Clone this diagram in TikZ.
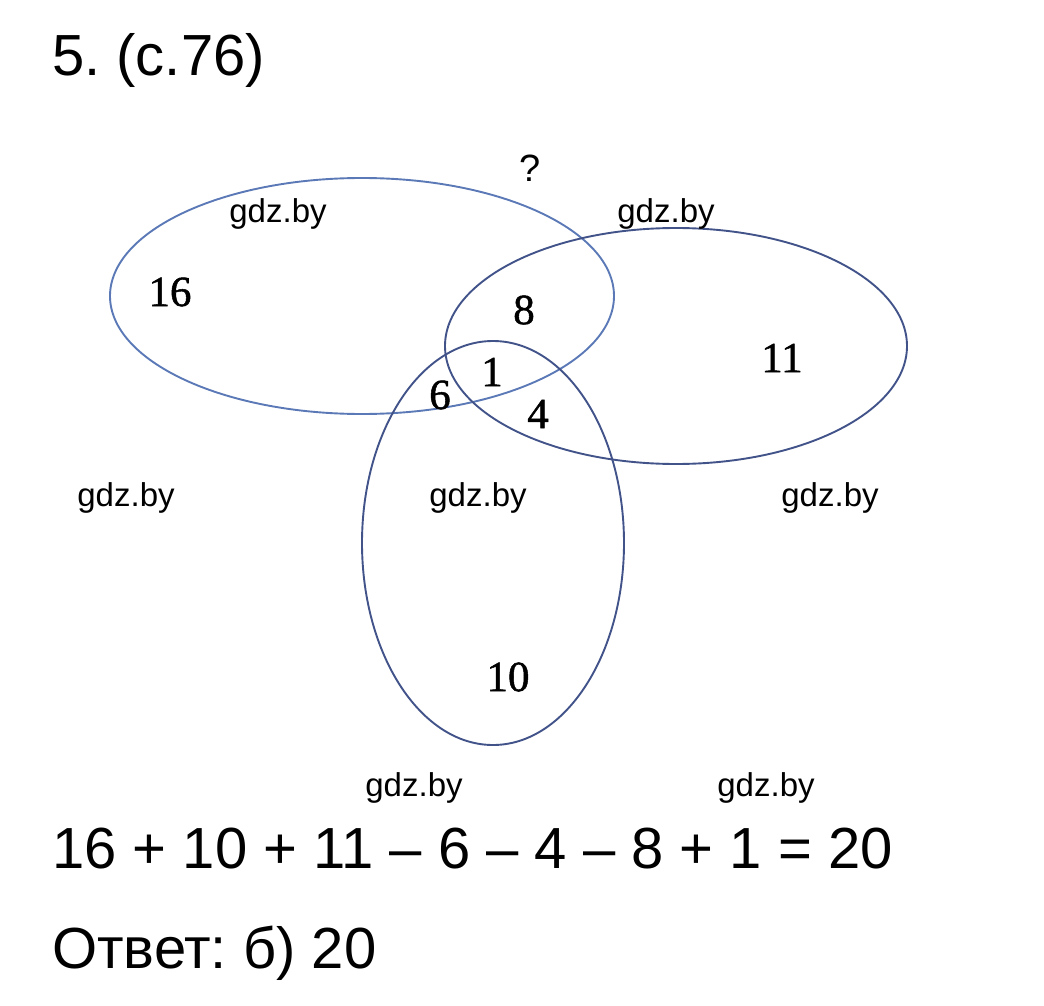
\documentclass[tikz,border=0pt]{standalone}
\usepackage{fontspec}
\setmainfont{Liberation Sans}
\newfontfamily\numfont[FakeBold=1.2]{Liberation Serif}
\usetikzlibrary{positioning}
\frenchspacing
\definecolor{ringA}{HTML}{5B79B6}
\definecolor{ringB}{HTML}{42538A}
\tikzset{
  big/.style={inner sep=0pt,anchor=base west,font=\fontsize{58}{60}\selectfont},
  site/.style={inner sep=0pt,font=\fontsize{33}{36}\selectfont},
  num/.style={inner sep=0pt,font=\numfont\fontsize{43}{45}\selectfont}
}

\begin{document}
\begin{tikzpicture}[x=1pt,y=-1pt]
\useasboundingbox (0,0) rectangle (1044,1006);
\draw[ringA,line width=1.9pt] (362,296) ellipse (252 and 118);
\draw[ringB,line width=1.9pt] (676,346) ellipse (231 and 118);
\draw[ringB,line width=1.9pt] (493,543) ellipse (131 and 202);
\node[big] (title) at (52,76) {5. (с.76)};
\node[inner sep=0pt,font=\fontsize{38}{40}\selectfont] (ask) at (530,168) {?};
\node[site] (w1) at (278,214) {gdz.by};
\node[site] (w2) at (666,214) {gdz.by};
\node[site] (w3) at (126,498) {gdz.by};
\node[site] (w4) at (478,498) {gdz.by};
\node[site] (w5) at (830,498) {gdz.by};
\node[site] (w6) at (414,788) {gdz.by};
\node[site] (w7) at (766,788) {gdz.by};
\node[num] (nA) at (170,292) {16};
\node[num] (nAB) at (524,310) {8};
\node[num] (nABC) at (492,372) {1};
\node[num] (nAC) at (440,395) {6};
\node[num] (nBC) at (538,414) {4};
\node[num] (nB) at (782,358) {11};
\node[num] (nC) at (508,677) {10};
\node[big] (sum) at (52,868) {16 + 10 + 11 – 6 – 4 – 8 + 1 = 20};
\node[big] (answer) at (52,968) {Ответ: б) 20};
\end{tikzpicture}
\end{document}
